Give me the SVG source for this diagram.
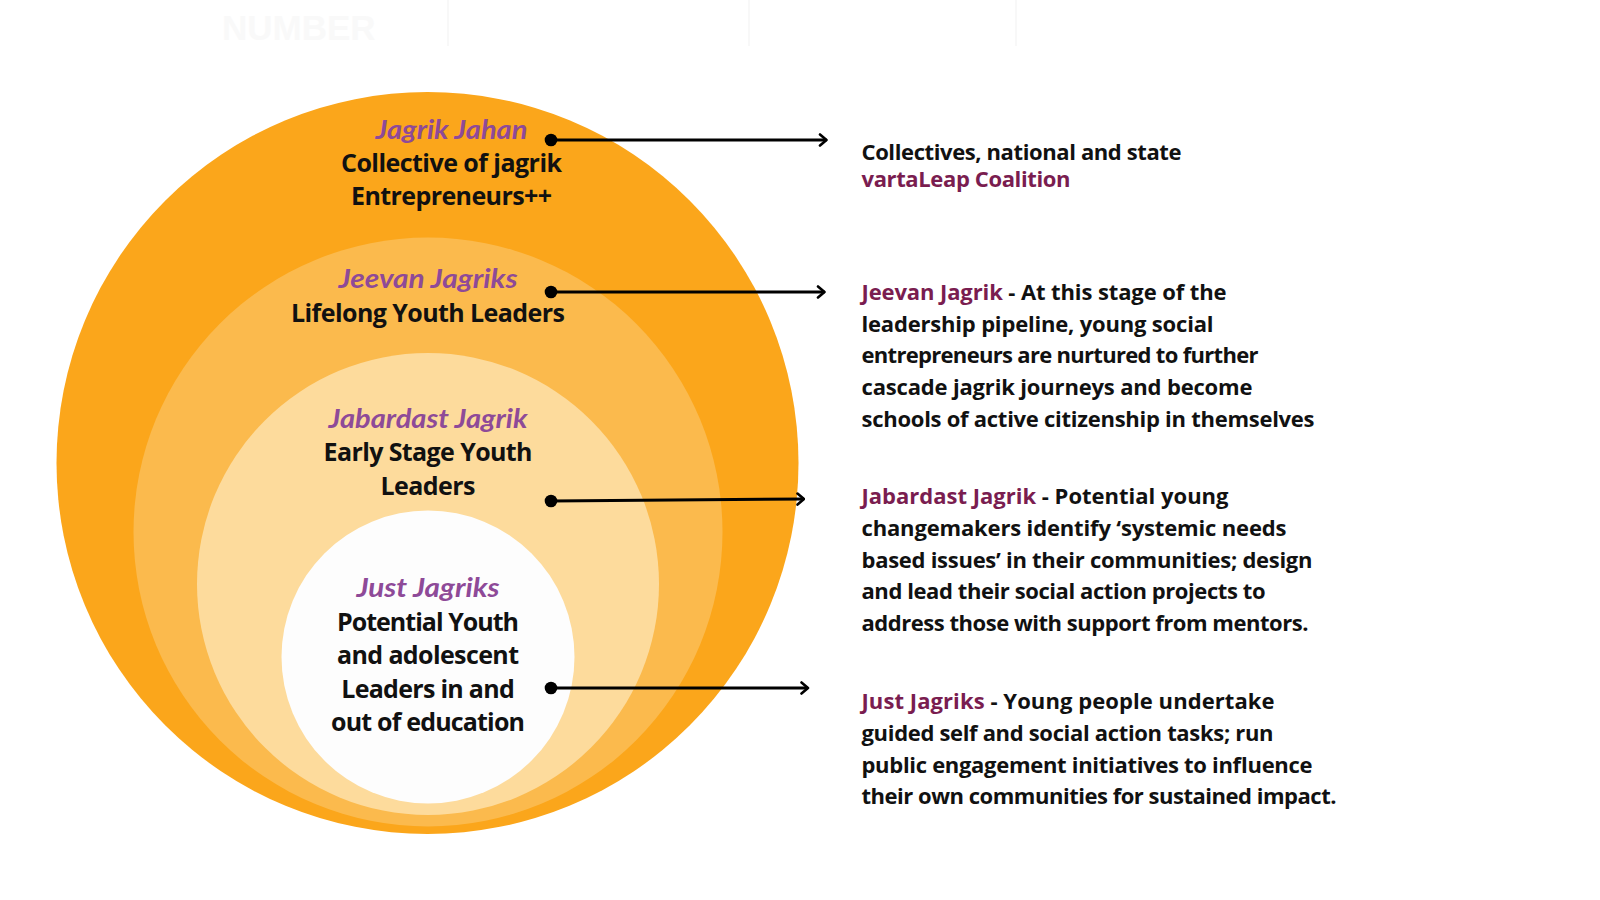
<svg xmlns="http://www.w3.org/2000/svg" width="1600" height="900" viewBox="0 0 1600 900">
<style>
.t{font-family:"Open Sans",Lato,"Liberation Sans",sans-serif;font-weight:700;fill:#111;}
.c{text-anchor:middle;font-size:25px;}
.h{font-family:Lato,"Open Sans","Liberation Sans",sans-serif;font-style:italic;fill:#8E4A98;font-size:26px;text-anchor:middle;}
.r{font-size:22px;}
.m{fill:#7A1D50;}
.con{stroke:#000;stroke-width:3;fill:none;}
.dot{fill:#000;}
.hd{stroke:#000;stroke-width:2.6;fill:none;stroke-linecap:round;stroke-linejoin:round;}
</style>
<defs>
<marker id="arr" viewBox="0 0 12 14" refX="10.5" refY="7" markerWidth="12" markerHeight="14" markerUnits="userSpaceOnUse" orient="auto">
<path d="M4,1.5 L10.5,7 L4,12.5" class="hd"/>
</marker>
</defs>
<rect width="1600" height="900" fill="#fff"/>
<g id="header" opacity="0.6">
<text x="222" y="40" font-family="Liberation Sans,sans-serif" font-weight="700" font-size="35" fill="#f6f6f6">NUMBER</text>
<line x1="448" y1="0" x2="448" y2="46" stroke="#f4f4f4" stroke-width="2"/>
<line x1="749" y1="0" x2="749" y2="46" stroke="#f4f4f4" stroke-width="2"/>
<line x1="1016" y1="0" x2="1016" y2="46" stroke="#f4f4f4" stroke-width="2"/>
</g>
<g id="circle-jahan"><circle cx="427.5" cy="463" r="371" fill="#FBA61B"/></g>
<g id="circle-jeevan"><circle cx="428" cy="532" r="294.5" fill="#FBBA4D"/></g>
<g id="circle-jabardast"><circle cx="428" cy="584" r="231" fill="#FDDB9C"/></g>
<g id="circle-just"><circle cx="428" cy="657" r="146.5" fill="#FDFDFD"/></g>

<g id="label-jahan">
<text class="t h" x="451.5" y="139" textLength="152" lengthAdjust="spacingAndGlyphs">Jagrik Jahan</text>
<text class="t c" x="451.5" y="171.5" textLength="221">Collective of jagrik</text>
<text class="t c" x="451.5" y="205" textLength="201">Entrepreneurs++</text>
</g>
<g id="label-jeevan">
<text class="t h" x="428" y="288" textLength="179" lengthAdjust="spacingAndGlyphs">Jeevan Jagriks</text>
<text class="t c" x="428" y="321.5" textLength="274">Lifelong Youth Leaders</text>
</g>
<g id="label-jabardast">
<text class="t h" x="428" y="427.5" textLength="199" lengthAdjust="spacingAndGlyphs">Jabardast Jagrik</text>
<text class="t c" x="428" y="461" textLength="209">Early Stage Youth</text>
<text class="t c" x="428" y="495" textLength="95">Leaders</text>
</g>
<g id="label-just">
<text class="t h" x="428" y="597" textLength="143" lengthAdjust="spacingAndGlyphs">Just Jagriks</text>
<text class="t c" x="428" y="630.5" textLength="182">Potential Youth</text>
<text class="t c" x="428" y="664" textLength="182">and adolescent</text>
<text class="t c" x="428" y="698" textLength="173.5">Leaders in and</text>
<text class="t c" x="428" y="730.5" textLength="194">out of education</text>
</g>

<g id="connectors">
<line class="con" x1="551" y1="140" x2="826.5" y2="140" marker-end="url(#arr)"/>
<circle class="dot" cx="551" cy="140" r="6.3"/>
<line class="con" x1="551" y1="292" x2="824.5" y2="292" marker-end="url(#arr)"/>
<circle class="dot" cx="551" cy="292" r="6.3"/>
<line class="con" x1="551" y1="501" x2="804" y2="499" marker-end="url(#arr)"/>
<circle class="dot" cx="551" cy="501" r="6.3"/>
<line class="con" x1="551" y1="688" x2="808" y2="688" marker-end="url(#arr)"/>
<circle class="dot" cx="551" cy="688" r="6.3"/>
</g>

<g id="desc-jahan">
<text class="t r" x="861.5" y="160" textLength="320">Collectives, national and state</text>
<text class="t r m" x="861.5" y="187" textLength="209">vartaLeap Coalition</text>
</g>
<g id="desc-jeevan">
<text class="t r" x="861.5" y="300" textLength="365"><tspan class="m">Jeevan Jagrik</tspan> - At this stage of the</text>
<text class="t r" x="861.5" y="331.5" textLength="352">leadership pipeline, young social</text>
<text class="t r" x="861.5" y="363" textLength="397">entrepreneurs are nurtured to further</text>
<text class="t r" x="861.5" y="395" textLength="391">cascade jagrik journeys and become</text>
<text class="t r" x="861.5" y="426.5" textLength="453">schools of active citizenship in themselves</text>
</g>
<g id="desc-jabardast">
<text class="t r" x="861.5" y="504" textLength="367"><tspan class="m">Jabardast Jagrik</tspan> - Potential young</text>
<text class="t r" x="861.5" y="535.5" textLength="425">changemakers identify ‘systemic needs</text>
<text class="t r" x="861.5" y="567.5" textLength="451">based issues’ in their communities; design</text>
<text class="t r" x="861.5" y="599" textLength="404">and lead their social action projects to</text>
<text class="t r" x="861.5" y="630.5" textLength="447">address those with support from mentors.</text>
</g>
<g id="desc-just">
<text class="t r" x="861.5" y="709" textLength="413"><tspan class="m">Just Jagriks</tspan> - Young people undertake</text>
<text class="t r" x="861.5" y="741" textLength="412">guided self and social action tasks; run</text>
<text class="t r" x="861.5" y="772.5" textLength="451">public engagement initiatives to influence</text>
<text class="t r" x="861.5" y="804" textLength="475">their own communities for sustained impact.</text>
</g>
</svg>
